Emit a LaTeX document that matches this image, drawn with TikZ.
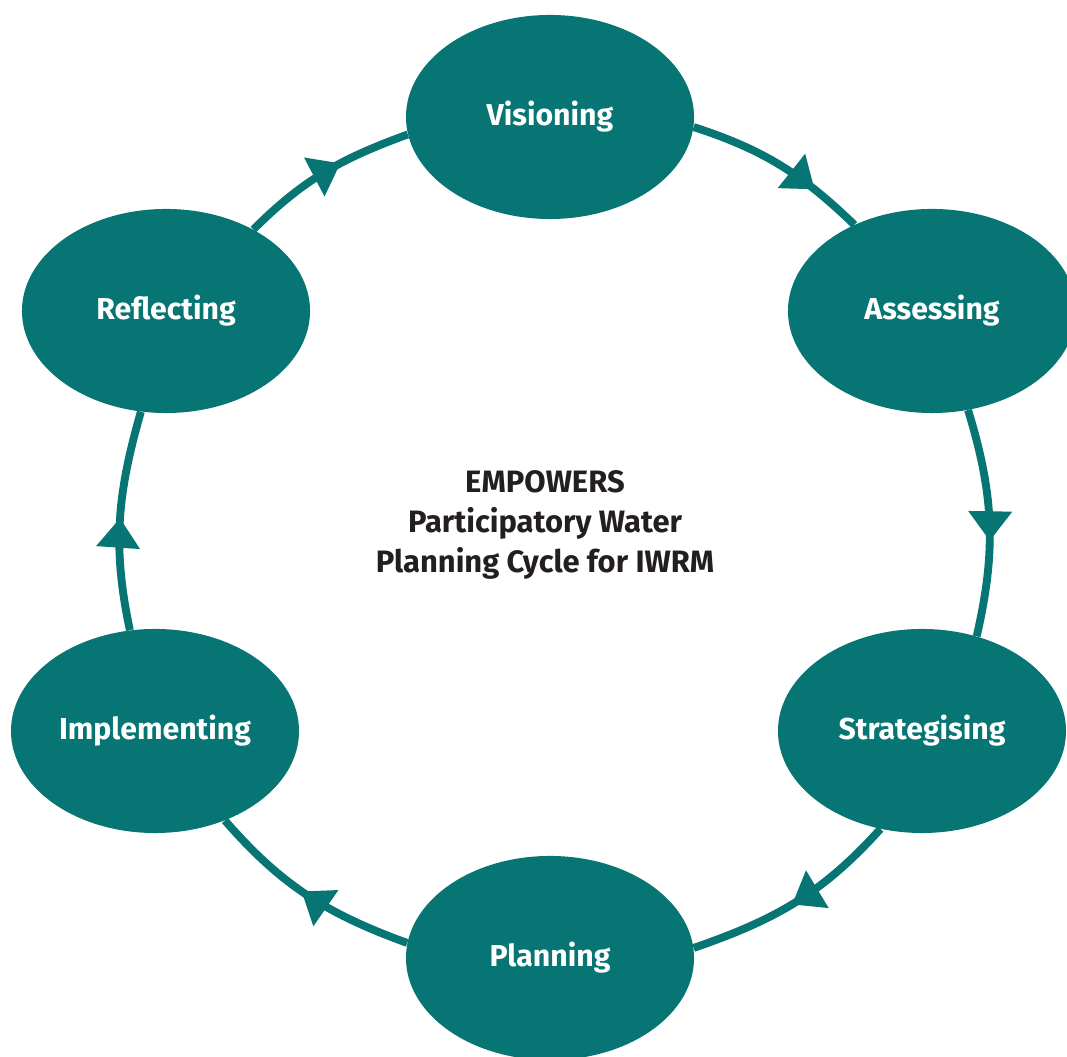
\documentclass[tikz,border=0pt]{standalone}
\usepackage{fontspec}
\setmainfont{Fira Sans}
\usetikzlibrary{arrows.meta,decorations.markings,shapes.geometric}
\definecolor{cycleteal}{HTML}{067573}
\definecolor{cycletext}{HTML}{231F20}
\tikzset{
  stage/.style={ellipse,fill=cycleteal,text=white,inner sep=0pt,
    minimum width=7.2cm,minimum height=5.1cm,font=\bfseries\fontsize{21.5}{25}\selectfont},
  flow/.style={draw=cycleteal,line width=5.6pt,
    postaction={decorate,decoration={markings,
      mark=at position #1 with {\arrow{Triangle[width=1.05cm,length=0.74cm]}}}}},
  flow/.default=0.55,
  title/.style={text=cycletext,align=center,
    font=\bfseries\fontsize{22}{28.5}\selectfont}
}

\begin{document}
\begin{tikzpicture}[x=0.025cm,y=0.025cm]
  \useasboundingbox (0,0) rectangle (1067,1057);
  % the six stages
  \node[stage] (vis) at (550,940) {Visioning};
  \node[stage] (ass) at (932,746) {Assessing};
  \node[stage] (str) at (922,326) {Strategising};
  \node[stage] (pla) at (550,99) {Planning};
  \node[stage] (imp) at (155,326) {Implementing};
  \node[stage] (ref) at (166,746) {Reflecting};
  \node[title] (ttl) at (545,532) {EMPOWERS\\Participatory Water\\Planning Cycle for IWRM};
  % arcs of the cycle, all on one circle round the title
  \draw[flow=0.72] (vis.-4) to[out=-18,in=136] (ass.132);
  \draw[flow=0.58] (ass.-70) to[out=-73,in=77] (str.60);
  \draw[flow=0.52] (str.-113) to[out=-132,in=19] (pla.4);
  \draw[flow=0.53] (pla.174) to[out=160,in=-49] (imp.-52);
  \draw[flow=0.51] (imp.104) to[out=102,in=-106] (ref.-104);
  \draw[flow=0.60] (ref.43) to[out=45,in=200] (vis.187);
\end{tikzpicture}
\end{document}
